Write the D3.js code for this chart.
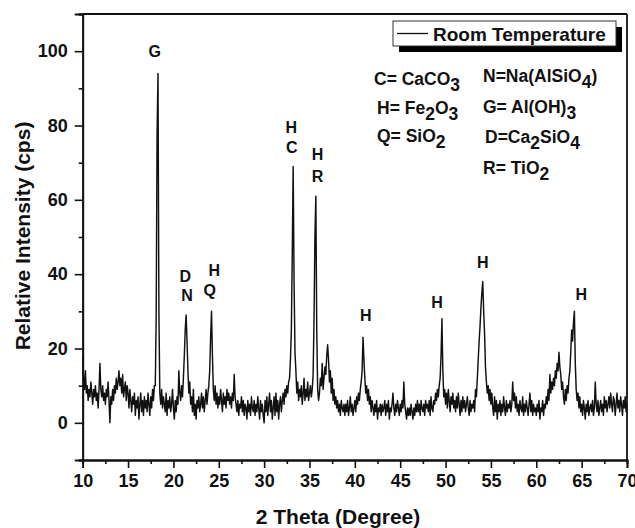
<!DOCTYPE html>
<html>
<head>
<meta charset="utf-8">
<script src="https://cdn.jsdelivr.net/npm/d3@7"></script>
<style>
  html, body { margin: 0; padding: 0; background: #fff; }
  svg { display: block; }
  text { font-family: "Liberation Sans", Arial, sans-serif; font-weight: bold; fill: #111; }
</style>
</head>
<body>
<svg id="chart" width="635" height="528"></svg>
<script>
// ---------- DATA ----------
const xStart = 10, xStep = 0.1;   // 2θ grid (degrees)
// intensity (cps), one row per degree: 2θ = d.0 ... d.9
const intensityRows = [
  [18,12,9,14,8,10,6,9,7,11],        // 10
  [8,5,9,7,10,6,8,4,9,16],           // 11
  [9,7,10,6,8,5,9,7,11,6],           // 12
  [0,7,5,9,6,10,8,12,9,11],          // 13
  [14,10,12,8,13,7,9,11,6,10],       // 14
  [8,4,9,6,3,7,5,8,2,6],             // 15
  [4,7,1,5,8,3,6,2,7,4],             // 16
  [6,3,8,5,2,7,4,9,6,10],            // 17
  [10,28,78,94,30,8,5,9,4,7],        // 18
  [5,3,8,2,6,4,7,3,5,9],             // 19
  [4,1,6,3,7,5,14,8,6,10],           // 20
  [7,12,18,25,29,22,14,8,11,5],      // 21
  [7,3,9,2,5,1,6,4,7,3],             // 22
  [5,8,4,7,3,6,9,5,8,10],            // 23
  [14,23,30,18,9,6,10,5,8,4],        // 24
  [7,5,9,6,3,8,5,7,4,9],             // 25
  [6,8,5,7,4,8,6,13,7,5],            // 26
  [3,6,2,5,4,7,3,6,2,5],             // 27
  [4,1,6,3,5,2,7,4,3,6],             // 28
  [2,5,3,7,4,1,6,3,5,2],             // 29
  [0,6,3,7,2,5,8,3,6,1],             // 30
  [4,7,2,8,3,6,1,5,7,3],             // 31
  [6,8,5,9,7,10,8,11,12,17],         // 32
  [25,45,69,38,19,14,8,11,6,9],      // 33
  [7,10,5,8,12,6,9,7,11,6],          // 34
  [8,10,7,9,13,28,50,61,25,9],       // 35
  [6,8,12,10,16,9,12,15,13,18],      // 36
  [21,17,11,14,8,12,6,9,5,7],        // 37
  [4,6,3,5,2,6,4,3,5,2],             // 38
  [5,3,6,2,4,7,3,5,2,4],             // 39
  [6,3,7,5,8,6,9,11,14,23],          // 40
  [17,12,8,10,6,9,5,7,3,6],          // 41
  [4,2,5,3,6,1,4,3,5,2],             // 42
  [5,3,4,6,2,5,3,6,1,4],             // 43
  [3,5,8,4,2,5,3,6,4,2],             // 44
  [5,3,6,4,11,5,3,1,4,2],            // 45
  [4,2,5,3,1,4,2,5,3,6],             // 46
  [3,5,2,6,4,3,5,2,6,4],             // 47
  [5,3,6,2,7,4,3,6,5,8],             // 48
  [6,9,7,10,12,18,28,14,7,9],        // 49
  [5,8,4,9,6,3,7,5,8,4],             // 50
  [6,3,7,4,8,5,2,6,3,7],             // 51
  [4,6,3,5,7,4,2,6,3,5],             // 52
  [4,6,3,9,7,12,17,22,26,31],        // 53
  [35,38,30,24,15,11,8,10,6,9],      // 54
  [5,8,4,2,7,3,6,1,5,3],             // 55
  [6,2,5,3,7,4,2,6,3,5],             // 56
  [4,6,3,5,11,6,8,4,7,3],            // 57
  [5,2,6,4,3,7,2,5,3,6],             // 58
  [4,2,5,8,3,6,2,5,3,4],             // 59
  [2,5,3,6,1,4,3,6,2,5],             // 60
  [4,7,5,9,6,13,8,11,9,12],          // 61
  [10,14,12,16,14,19,15,13,9,11],    // 62
  [7,5,9,6,10,8,12,14,19,25],        // 63
  [22,27,30,16,9,6,8,4,7,3],         // 64
  [5,2,6,4,1,5,3,6,2,4],             // 65
  [5,3,6,2,4,11,5,3,6,2],            // 66
  [4,6,3,5,2,7,4,6,3,5],             // 67
  [7,4,8,5,3,7,6,2,5,8],             // 68
  [4,6,3,7,5,2,6,4,7,3],             // 69
  [5]                                // 70
];
const seriesName = "Room Temperature";

const xTicks = [10,15,20,25,30,35,40,45,50,55,60,65,70];
const xMinorTicks = [12.5,17.5,22.5,27.5,32.5,37.5,42.5,47.5,52.5,57.5,62.5,67.5];
const yTicks = [0,20,40,60,80,100];
const yMinorTicks = [-10,10,30,50,70,90,110];

// peak labels: [text, 2θ, intensity]
const peakLabelText = ["G","H","C","H","R","D","N","H","Q","H","H","H","H"];
const peakLabelX    = [17.95,33.0,33.05,35.9,35.9,21.3,21.5,24.5,24.0,41.2,49.05,54.1,64.95];
const peakLabelY    = [98.5,78.1,72.7,70.8,64.9,37.8,32.9,39.6,34.2,27.5,31.0,41.6,33.1];

// phase key (underscore marks a subscript digit)
const phaseKeyLeft  = ["C= CaCO_3","H= Fe_2O_3","Q= SiO_2"];
const phaseKeyRight = ["N=Na(AlSiO_4)","G= Al(OH)_3","D=Ca_2SiO_4","R= TiO_2"];

const xTitle = "2 Theta (Degree)";
const yTitle = "Relative Intensity (cps)";

// ---------- CHART ----------
const svg = d3.select("#chart");
const L = 82.7, R = 627, T = 14, B = 460;
const x = d3.scaleLinear().domain([10,70]).range([L,R]);
const y = d3.scaleLinear().domain([-10,110]).range([B,T]);

const values = intensityRows.flat();
const data = values.map((v,i) => ({x: +(xStart + i*xStep).toFixed(2), y: v}));

// trace
svg.append("path")
  .datum(data)
  .attr("fill","none")
  .attr("stroke","#111")
  .attr("stroke-width",1.45)
  .attr("stroke-linejoin","round")
  .attr("d", d3.line().x(d=>x(d.x)).y(d=>y(d.y)));

// axes
const axFont = 18;
const gx = svg.append("g").attr("transform",`translate(0,${B})`)
  .call(d3.axisBottom(x).tickValues(xTicks).tickSize(8).tickPadding(6).tickFormat(d3.format("d")));
const gxm = svg.append("g").attr("transform",`translate(0,${B})`)
  .call(d3.axisBottom(x).tickValues(xMinorTicks).tickSize(4).tickFormat(""));
const gy = svg.append("g").attr("transform",`translate(${L},0)`)
  .call(d3.axisLeft(y).tickValues(yTicks).tickSize(8).tickPadding(7).tickFormat(d3.format("d")));
const gym = svg.append("g").attr("transform",`translate(${L},0)`)
  .call(d3.axisLeft(y).tickValues(yMinorTicks).tickSize(4).tickFormat(""));
[gx,gxm,gy,gym].forEach(g => {
  g.select(".domain").attr("stroke","#111").attr("stroke-width",1.8);
  g.selectAll(".tick line").attr("stroke","#111").attr("stroke-width",1.6);
  g.selectAll(".tick text").attr("font-size",axFont).attr("font-family",'"Liberation Sans", Arial, sans-serif')
    .attr("font-weight","bold").attr("fill","#111");
});
// top & right frame
svg.append("line").attr("x1",L).attr("x2",R).attr("y1",T).attr("y2",T).attr("stroke","#111").attr("stroke-width",1.8);
svg.append("line").attr("x1",R).attr("x2",R).attr("y1",T).attr("y2",B).attr("stroke","#111").attr("stroke-width",1.8);

// axis titles
svg.append("text").attr("x",338).attr("y",524).attr("text-anchor","middle")
  .attr("font-size",21).text(xTitle);
svg.append("text").attr("transform",`translate(30,236) rotate(-90)`).attr("text-anchor","middle")
  .attr("font-size",21).text(yTitle);

// peak labels
svg.append("g").selectAll("text").data(peakLabelText).join("text")
  .attr("x",(d,i)=>x(peakLabelX[i])).attr("y",(d,i)=>y(peakLabelY[i]))
  .attr("text-anchor","middle").attr("font-size",16).text(d=>d);

// legend box with shadow
const lg = svg.append("g");
lg.append("rect").attr("x",399).attr("y",27).attr("width",223).attr("height",25).attr("fill","#000");
lg.append("rect").attr("x",393).attr("y",21).attr("width",223).attr("height",25)
  .attr("fill","#fff").attr("stroke","#333").attr("stroke-width",1);
lg.append("line").attr("x1",397).attr("x2",428).attr("y1",33.5).attr("y2",33.5).attr("stroke","#111").attr("stroke-width",1.3);
lg.append("text").attr("x",433).attr("y",40.5).attr("font-size",19).text(seriesName);

// phase key with subscripts
function formula(g, str, px, py) {
  const t = g.append("text").attr("x",px).attr("y",py).attr("font-size",17.5);
  const parts = str.split(/(_\d)/).filter(s=>s.length);
  let sub = false;
  parts.forEach(p => {
    if (p[0] === "_") {
      t.append("tspan").attr("dy", 6).text(p.slice(1));
      sub = true;
    } else {
      t.append("tspan").attr("dy", sub ? -6 : 0).text(p);
      sub = false;
    }
  });
}
const kg = svg.append("g");
phaseKeyLeft.forEach((s,i) => formula(kg, s, i===0 ? 374 : 377, 85 + i*28.5));
phaseKeyRight.forEach((s,i) => formula(kg, s, i===2 ? 485 : 483, 82 + i*30.5));
</script>
</body>
</html>
